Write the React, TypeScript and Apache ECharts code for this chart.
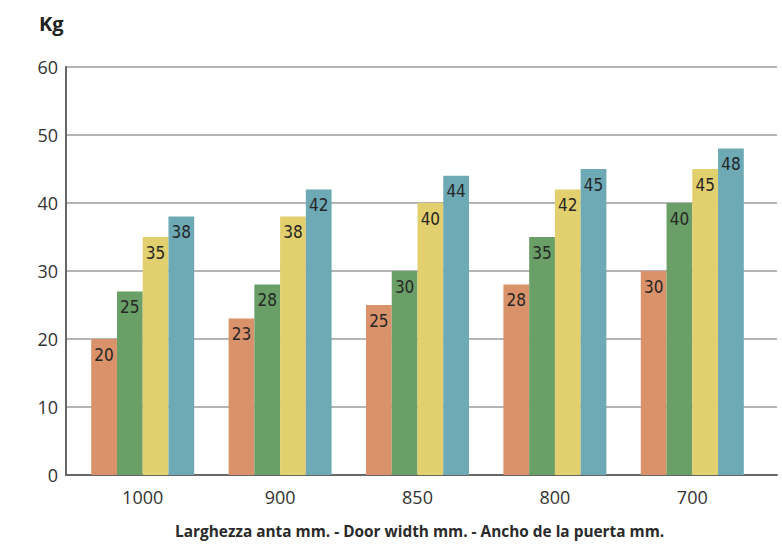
import React, { useEffect, useRef } from "react";
import * as echarts from "echarts";

const categories = ["1000", "900", "850", "800", "700"];
const orangeValues = [20, 23, 25, 28, 30];
const greenValues = [27, 28, 30, 35, 40];
const yellowValues = [35, 38, 40, 42, 45];
const blueValues = [38, 42, 44, 45, 48];
const orangeLabels = ["20", "23", "25", "28", "30"];
const greenLabels = ["25", "28", "30", "35", "40"];
const yellowLabels = ["35", "38", "40", "42", "45"];
const blueLabels = ["38", "42", "44", "45", "48"];
const yTicks = [0, 10, 20, 30, 40, 50, 60];

const colors = ["#DA926A", "#6A9F67", "#E2CF6D", "#6DAAB6"];

export default function App() {
  const ref = useRef<HTMLDivElement>(null);
  useEffect(() => {
    const chart = echarts.init(ref.current!, null, { renderer: "svg" });
    const labelFont = {
      show: true,
      position: "insideTop" as const,
      distance: 7,
      fontFamily: "'DejaVu Sans Condensed', 'Liberation Sans Narrow', sans-serif",
      fontSize: 17,
      color: "#262626",
    };
    const mk = (name: string, vals: number[], labels: string[], color: string) => ({
      name,
      type: "bar",
      xAxisIndex: 1,
      yAxisIndex: 1,
      data: vals,
      barWidth: 25.75,
      barGap: "0%",
      itemStyle: { color },
      label: { ...labelFont, formatter: (p: any) => labels[p.dataIndex] },
    });
    chart.setOption({
      animation: false,
      backgroundColor: "#ffffff",
      grid: [
        { left: 66, right: 5, top: 67, bottom: 72 },
        { left: 74, right: 21, top: 67, bottom: 72 },
      ],
      title: {
        text: "Kg",
        left: 34,
        top: 8,
        textStyle: { fontFamily: "'Open Sans', sans-serif", fontSize: 20, fontWeight: "bold", color: "#222" },
      },
      graphic: [
        {
          type: "text",
          left: 175,
          top: 524,
          style: {
            text: "Larghezza anta mm. - Door width mm. - Ancho de la puerta mm.",
            fontFamily: "'Open Sans', sans-serif",
            fontSize: 15.4,
            fontWeight: "bold",
            fill: "#2a2a2a",
          },
        },
      ],
      xAxis: [
        {
          gridIndex: 0,
          type: "category",
          data: categories,
          axisLine: { show: true, lineStyle: { color: "#666", width: 2 } },
          axisTick: { show: false },
          axisLabel: { show: false },
        },
        {
          gridIndex: 1,
          type: "category",
          data: categories,
          axisLine: { show: false },
          axisTick: { show: false },
          axisLabel: {
            margin: 13,
            fontFamily: "'Open Sans', sans-serif",
            fontSize: 18,
            color: "#333",
          },
        },
      ],
      yAxis: [
        {
          gridIndex: 0,
          type: "value",
          min: 0,
          max: 60,
          interval: 10,
          axisLine: { show: true, lineStyle: { color: "#666", width: 2 } },
          axisTick: { show: false },
          splitLine: { show: true, lineStyle: { color: "#b5b5b5", width: 2 } },
          axisLabel: {
            margin: 8,
            fontFamily: "'Open Sans', sans-serif",
            fontSize: 18,
            color: "#333",
            formatter: (v: number) => (yTicks.includes(v) ? String(v) : ""),
          },
        },
        {
          gridIndex: 1,
          type: "value",
          min: 0,
          max: 60,
          interval: 10,
          show: false,
          splitLine: { show: false },
        },
      ],
      series: [
        mk("A", orangeValues, orangeLabels, colors[0]),
        mk("B", greenValues, greenLabels, colors[1]),
        mk("C", yellowValues, yellowLabels, colors[2]),
        mk("D", blueValues, blueLabels, colors[3]),
      ],
    });
    return () => chart.dispose();
  }, []);
  return <div ref={ref} style={{ width: 782, height: 547, position: "absolute", left: 0, top: 0 }} />;
}
